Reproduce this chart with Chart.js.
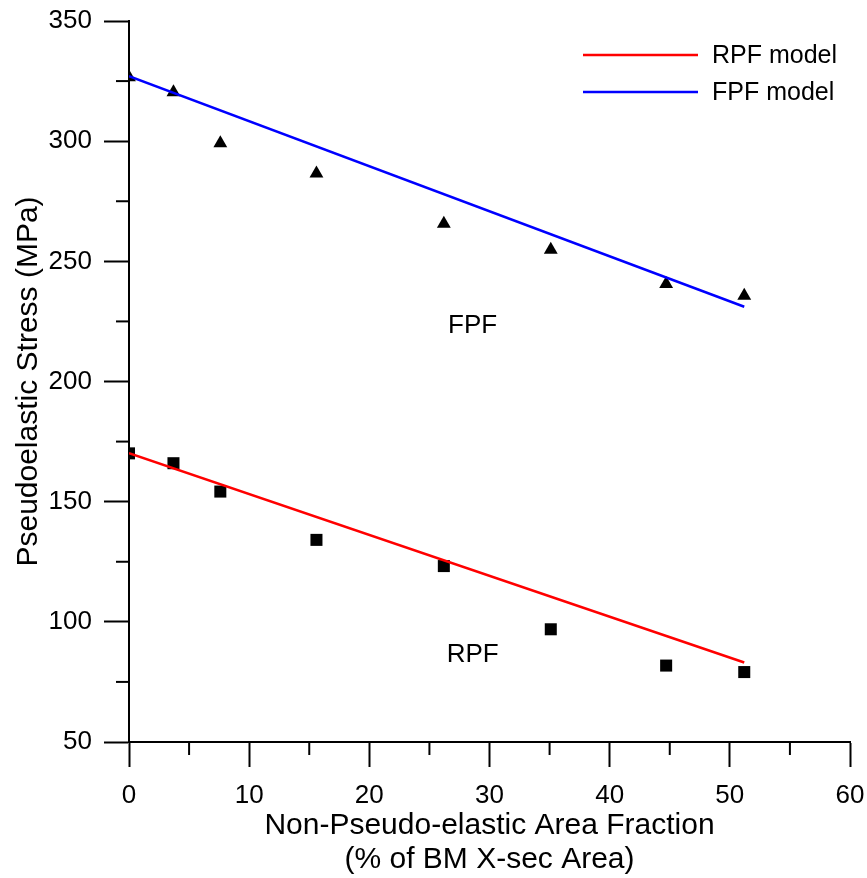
<!DOCTYPE html>
<html>
<head>
<meta charset="utf-8">
<script src="https://cdn.jsdelivr.net/npm/chart.js@4.4.1/dist/chart.umd.min.js"></script>
<style>
  html, body { margin: 0; padding: 0; background: #fff; }
  #wrap { width: 867px; height: 878px; position: relative; }
</style>
</head>
<body>
<div id="wrap"><canvas id="c" width="867" height="878"></canvas></div>
<script>
// ---- data ----
const areaFraction = [0, 3.7, 7.6, 15.6, 26.2, 35.1, 44.7, 51.2];
const fpfStress = [326.6, 320.4, 299.1, 286.5, 265.6, 254.8, 240.6, 235.7];
const rpfStress = [170.1, 166.0, 154.2, 134.1, 123.2, 96.9, 81.8, 79.1];
const fpfModelX = [0, 51.2];
const fpfModelY = [327.0, 231.1];
const rpfModelX = [0, 51.2];
const rpfModelY = [170.2, 83.1];
const yTicks = [50, 100, 150, 200, 250, 300, 350];
const xTicks = [0, 10, 20, 30, 40, 50, 60];
const annotations = [
  { text: 'FPF', x: 28.6, y: 223 },
  { text: 'RPF', x: 28.6, y: 86.3 }
];

const FONT = '"Liberation Sans", Arial, Helvetica, sans-serif';
const toPts = (xs, ys) => xs.map((x, i) => ({ x: x, y: ys[i] }));

const minorTicks = {
  id: 'minorTicks',
  afterDraw(chart) {
    const ctx = chart.ctx;
    const xs = chart.scales.x, ys = chart.scales.y;
    const ca = chart.chartArea;
    ctx.save();
    ctx.strokeStyle = '#000';
    ctx.lineWidth = 2;
    for (let v = 75; v < 350; v += 50) {
      const p = ys.getPixelForValue(v);
      ctx.beginPath(); ctx.moveTo(ca.left - 13, p); ctx.lineTo(ca.left, p); ctx.stroke();
    }
    for (let v = 5; v < 60; v += 10) {
      const p = xs.getPixelForValue(v);
      ctx.beginPath(); ctx.moveTo(p, ca.bottom); ctx.lineTo(p, ca.bottom + 13); ctx.stroke();
    }
    // annotations
    ctx.fillStyle = '#000';
    ctx.font = '26px ' + FONT;
    ctx.textAlign = 'center';
    ctx.textBaseline = 'middle';
    annotations.forEach(a => {
      ctx.fillText(a.text, xs.getPixelForValue(a.x), ys.getPixelForValue(a.y));
    });
    // legend
    const items = chart.data.datasets.filter(d => d.showLine);
    ctx.font = '25px ' + FONT;
    ctx.textAlign = 'left';
    items.forEach((d, i) => {
      const y = 55 + i * 37;
      ctx.strokeStyle = d.borderColor;
      ctx.lineWidth = 2.5;
      ctx.beginPath(); ctx.moveTo(583, y); ctx.lineTo(698, y); ctx.stroke();
      ctx.fillStyle = '#000';
      ctx.fillText(d.label, 712, y + 1);
    });
    ctx.restore();
  }
};

new Chart(document.getElementById('c'), {
  type: 'scatter',
  data: {
    datasets: [
      { label: 'RPF model', data: toPts(rpfModelX, rpfModelY), showLine: true,
        borderColor: '#ff0000', borderWidth: 2.5, pointRadius: 0, fill: false, order: 1 },
      { label: 'FPF model', data: toPts(fpfModelX, fpfModelY), showLine: true,
        borderColor: '#0000ff', borderWidth: 2.5, pointRadius: 0, fill: false, order: 1 },
      { label: 'RPF', data: toPts(areaFraction, rpfStress), pointStyle: 'rect',
        pointRadius: 8.5, backgroundColor: '#000', borderColor: '#000', borderWidth: 0, order: 2 },
      { label: 'FPF', data: toPts(areaFraction, fpfStress), pointStyle: 'triangle',
        pointRadius: 8, backgroundColor: '#000', borderColor: '#000', borderWidth: 0, order: 2 }
    ]
  },
  options: {
    responsive: false,
    animation: false,
    layout: { padding: { top: 21, right: 17, left: 0, bottom: 0 } },
    plugins: { legend: { display: false }, tooltip: { enabled: false } },
    scales: {
      x: {
        type: 'linear', min: 0, max: 60,
        afterBuildTicks(s) { s.ticks = xTicks.map(v => ({ value: v })); },
        afterFit(s) { s.height = 136; s.paddingLeft = 0; s.paddingRight = 0; },
        grid: { drawOnChartArea: false, drawTicks: true, tickLength: 25, tickWidth: 2, tickColor: '#000' },
        border: { display: true, color: '#000', width: 2 },
        ticks: { color: '#000', font: { family: FONT, size: 26 }, padding: 13, maxRotation: 0 },
        title: { display: true, text: ['Non-Pseudo-elastic Area Fraction', '(% of BM X-sec Area)'],
          color: '#000', font: { family: FONT, size: 30, lineHeight: 1.13 }, padding: { top: 0, bottom: 1 } }
      },
      y: {
        type: 'linear', min: 50, max: 350,
        afterBuildTicks(s) { s.ticks = yTicks.map(v => ({ value: v })); },
        afterFit(s) { s.width = 129; s.paddingTop = 0; s.paddingBottom = 0; },
        grid: { drawOnChartArea: false, drawTicks: true, tickLength: 25, tickWidth: 2, tickColor: '#000' },
        border: { display: true, color: '#000', width: 2 },
        ticks: { color: '#000', font: { family: FONT, size: 26 }, padding: 12 },
        title: { display: true, text: 'Pseudoelastic Stress (MPa)',
          color: '#000', font: { family: FONT, size: 30, lineHeight: 1.2 }, padding: { top: 11, bottom: 0 } }
      }
    }
  },
  plugins: [minorTicks]
});
</script>
</body>
</html>
